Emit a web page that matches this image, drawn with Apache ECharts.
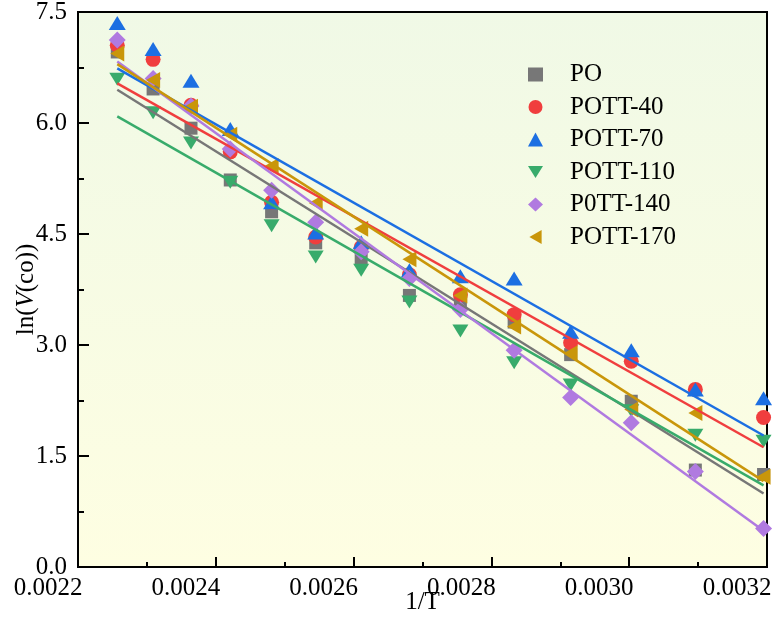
<!DOCTYPE html>
<html><head><meta charset="utf-8">
<script src="https://cdn.jsdelivr.net/npm/echarts@6/dist/echarts.min.js"></script>
<style>html,body{margin:0;padding:0;background:#fff}#c{width:774px;height:618px}</style>
</head><body><div id="c"></div>
<script>
// 1/T values (K^-1)
const xValues = [0.002257, 0.002309, 0.002364, 0.002421, 0.002481, 0.002545, 0.002611,
                 0.002681, 0.002755, 0.002833, 0.002915, 0.003003, 0.003096, 0.003195];
const seriesNames = ['PO', 'POTT-40', 'POTT-70', 'POTT-110', 'P0TT-140', 'POTT-170'];
const yPO     = [6.96, 6.46, 5.93, 5.23, 4.80, 4.38, 4.16, 3.67, 3.58, 3.31, 2.87, 2.24, 1.31, 1.25];
const yPOTT40 = [7.05, 6.86, 6.24, 5.61, 4.93, 4.46, 4.32, 3.95, 3.68, 3.41, 3.03, 2.78, 2.40, 2.02];
const yPOTT70 = [7.35, 7.00, 6.57, 5.92, 4.93, 4.52, 4.39, 4.01, 3.93, 3.90, 3.18, 2.93, 2.40, 2.28];
const yPOTT110= [6.59, 6.14, 5.73, 5.20, 4.61, 4.19, 4.01, 3.58, 3.19, 2.76, 2.46, 2.11, 1.78, 1.70];
const yP0TT140= [7.12, 6.60, 6.23, 5.65, 5.09, 4.66, 4.26, 3.90, 3.48, 2.93, 2.29, 1.95, 1.29, 0.52];
const yPOTT170= [6.94, 6.58, 6.22, 5.84, 5.42, 4.92, 4.57, 4.16, 3.67, 3.25, 2.89, 2.13, 2.08, 1.22];
const xTickMin = 0.0022, xTickMax = 0.0032, xTickStep = 0.0002;
const yTickMin = 0.0, yTickMax = 7.5, yTickStep = 1.5;

const allY = [yPO, yPOTT40, yPOTT70, yPOTT110, yP0TT140, yPOTT170];
const colors = ['#777777', '#f03e3e', '#1c6fe2', '#38ab6b', '#b07ae0', '#c9960a'];
const DOWN = 'path://M0,0L16,0L8,13Z';
const LEFT = 'path://M14,0L14,16L0,8Z';
const symbols = ['rect', 'circle', 'triangle', DOWN, 'diamond', LEFT];
const sizes = [[13, 13], [15, 15], [17, 14], [16, 13], [17, 17], [14, 16]];
const FONT = 'Liberation Serif';

function linFit(xs, ys) {
  const n = xs.length;
  let sx = 0, sy = 0;
  for (let i = 0; i < n; i++) { sx += xs[i]; sy += ys[i]; }
  const mx = sx / n, my = sy / n;
  let num = 0, den = 0;
  for (let i = 0; i < n; i++) { num += (xs[i] - mx) * (ys[i] - my); den += (xs[i] - mx) * (xs[i] - mx); }
  const b = num / den, a = my - b * mx;
  return [[xs[0], a + b * xs[0]], [xs[n - 1], a + b * xs[n - 1]]];
}

const series = [];
allY.forEach((ys, k) => {
  series.push({
    name: seriesNames[k], type: 'scatter',
    data: xValues.map((x, i) => [x, ys[i]]),
    symbol: symbols[k], symbolSize: sizes[k],
    itemStyle: { color: colors[k], opacity: 1 }, z: 3
  });
});
allY.forEach((ys, k) => {
  series.push({
    name: seriesNames[k] + ' fit', type: 'line',
    data: linFit(xValues, ys), showSymbol: false, symbol: 'none', silent: true,
    lineStyle: { color: colors[k], width: 2.5 }, z: 4
  });
});

const chart = echarts.init(document.getElementById('c'), null, { renderer: 'canvas' });
chart.setOption({
  backgroundColor: '#ffffff',
  animation: false,
  grid: {
    left: 78, right: 7, top: 12, bottom: 51, show: true,
    containLabel: false, outerBoundsMode: 'none',
    borderColor: '#000', borderWidth: 2,
    backgroundColor: { type: 'linear', x: 0, y: 0, x2: 0, y2: 1,
      colorStops: [{ offset: 0, color: '#f0f9e6' }, { offset: 1, color: '#fefee2' }] }
  },
  legend: {
    data: seriesNames.map((n, k) => ({ name: n, icon: symbols[k] })),
    orient: 'vertical', left: 523, top: 57,
    itemWidth: 15, itemHeight: 14, itemGap: 7.5,
    textStyle: { fontFamily: FONT, fontSize: 25, color: '#000', lineHeight: 25, padding: [0, 0, 0, 22] }
  },
  xAxis: {
    type: 'value', min: xTickMin, max: xTickMax, interval: xTickStep,
    name: '1/T', nameLocation: 'middle', nameGap: 23, nameMoveOverlap: false,
    nameTextStyle: { fontFamily: FONT, fontSize: 25, color: '#000' },
    axisLine: { show: true, lineStyle: { color: '#000', width: 2 } },
    axisTick: { show: true, inside: true, length: 10, lineStyle: { color: '#000', width: 2 } },
    minorTick: { show: true, splitNumber: 2, length: 5, lineStyle: { color: '#000', width: 2 } },
    splitLine: { show: false },
    axisLabel: { formatter: v => v.toFixed(4) + '{s|}', fontFamily: FONT, fontSize: 25, color: '#000', margin: 9,
      align: 'center', hideOverlap: false, rich: { s: { width: 60 } } }
  },
  yAxis: {
    type: 'value', min: yTickMin, max: yTickMax, interval: yTickStep,
    name: '{n|ln(}{i|V}{n|(co))}', nameLocation: 'middle', nameGap: 39, nameRotate: 90, nameMoveOverlap: false,
    nameTextStyle: { rich: {
      n: { fontFamily: FONT, fontSize: 25, color: '#000' },
      i: { fontFamily: FONT, fontSize: 25, color: '#000', fontStyle: 'italic' } } },
    axisLine: { show: true, lineStyle: { color: '#000', width: 2 } },
    axisTick: { show: true, inside: true, length: 11, lineStyle: { color: '#000', width: 2 } },
    minorTick: { show: true, splitNumber: 2, length: 6, lineStyle: { color: '#000', width: 2 } },
    splitLine: { show: false },
    axisLabel: { formatter: v => v.toFixed(1), fontFamily: FONT, fontSize: 25, color: '#000', margin: 11 }
  },
  series: series
});
</script></body></html>
